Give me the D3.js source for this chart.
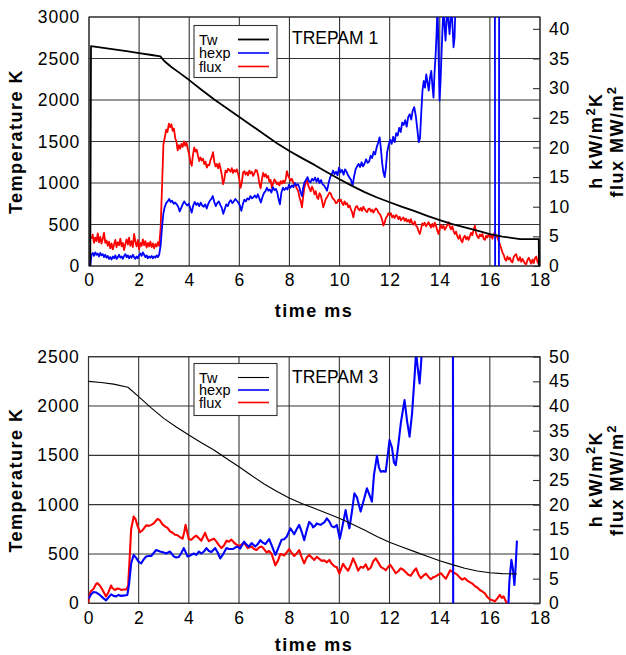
<!DOCTYPE html>
<html>
<head>
<meta charset="utf-8">
<script src="https://cdn.jsdelivr.net/npm/d3@7"></script>
<style>
  body { margin: 0; background: #fff; }
  svg text { font-family: "Liberation Sans", Arial, Helvetica, sans-serif; fill: #000; }
</style>
</head>
<body>
<svg id="chart" width="626" height="655"></svg>
<script>
// ---- tick labels ----
const timeTicks = [0, 2, 4, 6, 8, 10, 12, 14, 16, 18];
const tempTicks1 = [0, 500, 1000, 1500, 2000, 2500, 3000];
const rightTicks1 = [0, 5, 10, 15, 20, 25, 30, 35, 40];
const tempTicks3 = [0, 500, 1000, 1500, 2000, 2500];
const rightTicks3 = [0, 5, 10, 15, 20, 25, 30, 35, 40, 45, 50];
const legendNames = ["Tw", "hexp", "flux"];

// ---- TREPAM 1 : [time ms, value] ----
const tw1 = [[0.05,0],[0.08,2650],[0.5,2632],[1.0,2610],[1.5,2588],[2.0,2565],[2.5,2542],[2.85,2525],[3.0,2470],[3.3,2395],[3.6,2330],[4.0,2240],[4.5,2120],[5.0,2005],[5.5,1900],[6.0,1795],[6.5,1690],[7.0,1585],[7.5,1480],[8.0,1385],[8.5,1300],[9.0,1218],[9.5,1130],[10.0,1045],[10.5,965],[11.0,890],[11.5,825],[12.0,768],[12.5,712],[13.0,660],[13.5,605],[14.0,552],[14.5,505],[15.0,465],[15.5,425],[16.0,385],[16.5,355],[17.0,333],[17.2,325],[17.95,325],[17.96,0]];

const hexp1 = [[0.05,0],[0.1,1.9],[0.15,2.2],[0.2,1.7],[0.25,2.3],[0.3,1.9],[0.35,2.1],[0.4,1.6],[0.45,2.2],[0.5,1.8],[0.55,2.0],[0.6,1.5],[0.65,1.9],[0.7,1.4],[0.75,1.7],[0.8,1.2],[0.85,1.5],[0.9,1.1],[0.95,1.6],[1.0,1.3],[1.05,1.8],[1.1,1.2],[1.15,1.5],[1.2,1.9],[1.25,1.4],[1.3,1.6],[1.35,1.2],[1.4,1.7],[1.45,2.0],[1.5,1.5],[1.55,1.8],[1.6,1.3],[1.65,1.7],[1.7,1.4],[1.75,1.9],[1.8,1.5],[1.85,1.2],[1.9,1.6],[1.95,1.3],[2.0,1.8],[2.05,2.1],[2.1,1.7],[2.15,2.3],[2.2,1.9],[2.25,1.5],[2.3,1.8],[2.35,1.3],[2.4,1.6],[2.45,1.4],[2.5,1.7],[2.55,1.3],[2.6,1.6],[2.65,1.4],[2.7,1.8],[2.75,1.5],[2.8,1.9],[2.86,3.5],[2.92,6.8],[2.97,8.9],[3.02,9.9],[3.08,10.6],[3.14,10.9],[3.2,11.3],[3.26,10.8],[3.32,11.0],[3.38,10.5],[3.44,10.7],[3.5,10.4],[3.56,10.0],[3.62,9.2],[3.68,9.8],[3.74,10.4],[3.8,10.9],[3.86,10.5],[3.92,10.2],[3.98,10.5],[4.04,9.8],[4.1,9.0],[4.16,10.2],[4.22,10.8],[4.28,10.3],[4.34,10.6],[4.4,10.1],[4.46,10.7],[4.52,10.2],[4.58,10.0],[4.64,10.4],[4.7,9.7],[4.76,10.5],[4.82,11.0],[4.88,11.3],[4.94,11.8],[5.0,10.8],[5.06,10.1],[5.12,10.6],[5.18,10.9],[5.24,10.3],[5.3,9.8],[5.36,8.8],[5.42,9.6],[5.48,10.4],[5.54,10.1],[5.6,10.8],[5.66,11.1],[5.72,10.6],[5.78,10.9],[5.84,11.3],[5.9,11.0],[5.96,10.7],[6.02,10.2],[6.08,9.3],[6.14,10.4],[6.2,11.2],[6.26,10.9],[6.32,11.4],[6.38,11.2],[6.44,11.8],[6.5,11.4],[6.56,11.6],[6.62,11.9],[6.68,11.5],[6.74,12.1],[6.8,11.4],[6.86,10.7],[6.92,11.6],[6.98,12.3],[7.04,12.6],[7.1,13.2],[7.16,12.7],[7.22,12.9],[7.28,12.4],[7.34,13.3],[7.4,12.8],[7.46,13.0],[7.52,12.3],[7.58,11.0],[7.62,10.4],[7.68,12.4],[7.74,13.2],[7.8,12.8],[7.86,13.2],[7.92,12.9],[7.98,13.7],[8.04,13.2],[8.1,13.6],[8.16,13.3],[8.22,14.0],[8.28,13.6],[8.34,13.8],[8.4,13.2],[8.45,12.4],[8.5,11.8],[8.55,13.2],[8.6,14.1],[8.66,14.5],[8.72,15.0],[8.78,14.3],[8.84,14.1],[8.9,14.7],[8.96,14.4],[9.02,14.9],[9.08,14.2],[9.14,14.8],[9.2,14.0],[9.26,14.5],[9.32,13.8],[9.38,13.6],[9.44,13.2],[9.5,12.7],[9.56,13.9],[9.62,14.9],[9.68,15.4],[9.74,16.1],[9.8,15.5],[9.86,15.9],[9.92,15.3],[9.98,16.6],[10.04,15.8],[10.1,16.2],[10.16,15.4],[10.22,16.3],[10.28,15.9],[10.34,15.3],[10.4,14.9],[10.46,14.5],[10.52,13.5],[10.58,15.1],[10.64,16.3],[10.7,16.8],[10.76,17.2],[10.82,16.7],[10.88,17.5],[10.94,16.8],[11.0,17.3],[11.06,18.0],[11.12,17.4],[11.18,17.6],[11.24,18.6],[11.3,18.2],[11.36,19.3],[11.42,18.8],[11.48,20.0],[11.54,20.8],[11.6,21.7],[11.65,19.8],[11.7,17.4],[11.75,15.8],[11.8,15.0],[11.85,16.6],[11.9,19.2],[11.96,20.4],[12.02,21.3],[12.08,20.6],[12.14,21.8],[12.2,20.9],[12.26,22.4],[12.32,22.0],[12.38,23.3],[12.44,22.6],[12.5,24.2],[12.56,23.8],[12.62,24.6],[12.68,23.5],[12.74,25.1],[12.8,25.6],[12.86,24.7],[12.92,26.2],[12.98,26.8],[13.04,25.4],[13.1,23.2],[13.16,20.9],[13.21,21.5],[13.26,25.8],[13.31,29.6],[13.36,31.2],[13.41,30.1],[13.46,32.3],[13.51,31.0],[13.56,29.6],[13.61,31.8],[13.66,32.9],[13.71,30.2],[13.75,28.4],[13.79,32.6],[13.83,35.2],[13.87,39.0],[13.91,44.0],[13.95,36.0],[13.99,27.9],[14.03,31.0],[14.07,35.8],[14.11,40.1],[14.15,44.0],[14.19,40.5],[14.23,38.0],[14.27,41.3],[14.31,44.0],[14.35,41.0],[14.39,39.1],[14.43,41.5],[14.47,44.0],[14.51,40.3],[14.55,36.9],[14.59,38.5],[14.64,46.0],[16.2,46.0],[16.21,-5],[16.36,-5],[16.37,46.0],[17.95,46.0]];

const flux1 = [[0.1,4.6],[0.15,5.3],[0.2,3.9],[0.25,4.8],[0.3,4.2],[0.35,5.5],[0.4,4.0],[0.45,4.9],[0.5,3.8],[0.55,4.6],[0.6,5.6],[0.65,3.9],[0.7,4.3],[0.75,3.4],[0.8,4.1],[0.85,3.0],[0.9,3.8],[0.95,2.8],[1.0,3.6],[1.05,4.4],[1.1,3.2],[1.15,4.0],[1.2,3.5],[1.25,4.6],[1.3,3.3],[1.35,3.9],[1.4,2.7],[1.45,3.7],[1.5,4.5],[1.55,3.6],[1.6,4.8],[1.65,3.4],[1.7,4.2],[1.75,3.2],[1.8,5.4],[1.85,4.1],[1.9,3.3],[1.95,4.4],[2.0,2.8],[2.05,3.9],[2.1,3.4],[2.15,4.5],[2.2,3.5],[2.25,4.2],[2.3,3.1],[2.35,3.9],[2.4,3.3],[2.45,4.1],[2.5,3.2],[2.55,3.8],[2.6,3.0],[2.65,3.7],[2.7,3.3],[2.75,4.0],[2.8,3.4],[2.86,6.5],[2.92,14.0],[2.97,20.5],[3.03,21.8],[3.08,23.0],[3.13,22.6],[3.19,24.0],[3.24,23.4],[3.29,23.9],[3.34,22.8],[3.39,23.2],[3.44,21.6],[3.49,21.0],[3.54,19.5],[3.59,20.4],[3.64,19.8],[3.69,20.6],[3.74,20.1],[3.79,21.0],[3.84,20.3],[3.89,20.8],[3.95,19.6],[4.0,18.8],[4.05,17.5],[4.1,16.9],[4.15,18.8],[4.2,20.0],[4.25,19.3],[4.3,19.6],[4.35,18.6],[4.4,17.7],[4.45,18.3],[4.5,17.8],[4.55,18.1],[4.6,17.2],[4.65,17.6],[4.7,16.6],[4.75,17.1],[4.8,17.0],[4.85,17.9],[4.9,18.4],[4.95,19.2],[5.0,17.6],[5.05,16.8],[5.1,17.2],[5.15,16.5],[5.2,17.3],[5.25,16.4],[5.3,15.4],[5.35,13.8],[5.4,14.6],[5.45,16.1],[5.5,15.8],[5.55,16.4],[5.6,16.2],[5.65,15.9],[5.7,16.5],[5.75,15.7],[5.8,16.2],[5.85,15.9],[5.9,16.3],[5.95,15.6],[6.0,14.6],[6.05,13.2],[6.1,14.1],[6.15,15.8],[6.2,16.0],[6.25,15.4],[6.3,15.8],[6.35,15.3],[6.4,16.1],[6.45,15.6],[6.5,15.9],[6.55,15.2],[6.6,15.6],[6.65,16.2],[6.7,16.1],[6.75,15.3],[6.8,13.9],[6.85,13.1],[6.9,14.6],[6.95,15.7],[7.0,15.1],[7.05,15.5],[7.1,14.9],[7.15,15.2],[7.2,14.2],[7.25,14.5],[7.3,13.2],[7.35,14.0],[7.4,14.6],[7.45,14.3],[7.5,13.8],[7.55,14.1],[7.6,13.6],[7.65,14.3],[7.7,13.9],[7.75,14.4],[7.8,14.0],[7.85,14.6],[7.9,16.0],[7.95,15.2],[8.0,14.8],[8.05,14.4],[8.1,14.7],[8.15,14.1],[8.2,13.8],[8.25,13.5],[8.3,13.0],[8.35,12.7],[8.4,11.6],[8.45,10.9],[8.5,9.9],[8.55,11.8],[8.6,13.3],[8.65,14.0],[8.7,14.5],[8.75,13.6],[8.8,13.1],[8.85,12.6],[8.9,13.4],[8.95,12.9],[9.0,12.1],[9.05,12.6],[9.1,11.6],[9.15,11.3],[9.2,12.3],[9.25,11.9],[9.3,11.0],[9.35,9.9],[9.4,10.6],[9.45,11.3],[9.5,11.6],[9.55,12.0],[9.6,12.4],[9.65,12.2],[9.7,11.6],[9.75,11.3],[9.8,11.1],[9.85,10.6],[9.9,10.7],[9.95,11.2],[10.0,10.9],[10.05,11.2],[10.1,10.6],[10.15,10.3],[10.2,10.9],[10.25,10.4],[10.3,10.6],[10.35,9.9],[10.4,10.2],[10.45,9.6],[10.5,9.1],[10.55,8.2],[10.6,9.3],[10.65,10.0],[10.7,10.1],[10.75,9.6],[10.8,9.4],[10.85,9.8],[10.9,9.3],[10.95,10.0],[11.0,9.6],[11.05,9.3],[11.1,9.1],[11.15,9.6],[11.2,9.7],[11.25,9.2],[11.3,9.5],[11.35,9.0],[11.4,9.4],[11.45,9.7],[11.5,9.5],[11.55,9.0],[11.6,8.8],[11.65,8.4],[11.7,7.8],[11.75,6.8],[11.8,7.3],[11.85,8.1],[11.9,8.4],[11.95,8.9],[12.0,8.6],[12.05,8.9],[12.1,8.2],[12.15,8.5],[12.2,8.1],[12.25,8.6],[12.3,8.4],[12.35,7.9],[12.4,8.3],[12.45,7.7],[12.5,8.0],[12.55,8.2],[12.6,7.6],[12.65,8.0],[12.7,7.5],[12.75,7.8],[12.8,7.3],[12.85,7.9],[12.9,7.2],[12.95,7.0],[13.0,7.5],[13.05,6.8],[13.1,6.6],[13.15,5.9],[13.2,5.4],[13.25,6.2],[13.3,7.2],[13.35,6.9],[13.4,7.3],[13.45,6.7],[13.5,7.0],[13.55,7.4],[13.6,6.9],[13.65,6.5],[13.7,7.1],[13.75,6.6],[13.8,7.3],[13.85,6.8],[13.9,6.0],[13.95,5.4],[14.0,6.3],[14.05,6.9],[14.1,6.4],[14.15,6.8],[14.2,6.1],[14.25,6.5],[14.3,6.9],[14.35,7.4],[14.4,6.6],[14.45,6.2],[14.5,6.7],[14.55,5.9],[14.6,5.4],[14.65,5.8],[14.7,5.0],[14.75,4.6],[14.8,5.2],[14.85,4.3],[14.9,4.0],[14.95,4.8],[15.0,5.1],[15.05,4.5],[15.1,4.9],[15.15,4.4],[15.2,5.0],[15.25,5.6],[15.3,5.2],[15.35,6.1],[15.4,6.8],[15.45,5.5],[15.5,5.0],[15.55,4.7],[15.6,5.3],[15.65,5.0],[15.7,5.4],[15.75,4.6],[15.8,4.4],[15.85,5.1],[15.9,4.8],[15.95,5.4],[16.0,4.9],[16.05,5.2],[16.1,4.6],[16.15,5.3],[16.2,5.7],[16.25,5.1],[16.3,4.8],[16.35,4.2],[16.4,3.6],[16.45,3.0],[16.5,2.3],[16.55,1.9],[16.6,1.2],[16.65,0.9],[16.7,1.6],[16.75,1.1],[16.8,1.4],[16.85,0.8],[16.9,0.6],[16.95,1.5],[17.0,1.8],[17.05,2.0],[17.1,1.2],[17.15,0.9],[17.2,1.5],[17.25,0.7],[17.3,1.2],[17.35,0.8],[17.4,0.4],[17.45,0.3],[17.5,1.0],[17.55,1.4],[17.6,0.9],[17.65,0.4],[17.7,1.1],[17.75,0.5],[17.8,1.3],[17.85,1.6],[17.9,0.7],[17.95,0.3]];

// ---- TREPAM 3 : [time ms, value] ----
const tw3 = [[0,2250],[0.5,2238],[1.0,2222],[1.57,2190],[2.0,2095],[2.5,1982],[3.0,1875],[3.5,1788],[4.0,1706],[4.5,1628],[5.0,1554],[5.5,1468],[6.0,1385],[6.5,1295],[7.0,1210],[7.5,1135],[8.0,1068],[8.5,1012],[9.0,963],[9.5,912],[10.0,862],[10.5,805],[11.0,743],[11.5,678],[12.0,618],[12.5,570],[13.0,524],[13.5,476],[14.0,432],[14.5,392],[15.0,355],[15.5,328],[16.0,310],[16.5,301],[17.08,297]];

const hexp3 = [[0.0,0.9],[0.1,1.8],[0.2,2.3],[0.3,2.2],[0.45,1.7],[0.6,1.0],[0.7,0.6],[0.8,1.2],[0.9,1.8],[1.0,1.5],[1.1,1.4],[1.2,1.7],[1.3,1.5],[1.45,1.6],[1.55,1.7],[1.62,4.0],[1.7,8.1],[1.8,9.8],[1.9,9.2],[2.0,8.4],[2.1,8.1],[2.2,8.9],[2.3,9.5],[2.4,9.6],[2.5,9.6],[2.6,10.2],[2.7,10.8],[2.85,10.5],[3.0,10.3],[3.1,10.1],[3.25,10.5],[3.4,9.5],[3.5,9.3],[3.6,9.4],[3.7,10.2],[3.8,11.2],[3.95,9.5],[4.05,9.7],[4.2,10.1],[4.3,9.8],[4.4,10.5],[4.5,10.1],[4.6,10.5],[4.7,11.2],[4.8,10.6],[4.9,10.4],[5.05,11.2],[5.15,10.3],[5.25,9.1],[5.35,9.8],[5.5,11.2],[5.6,11.0],[5.75,11.0],[5.85,11.3],[5.95,11.5],[6.05,11.1],[6.2,12.5],[6.3,11.9],[6.4,11.5],[6.5,12.2],[6.65,11.5],[6.75,12.0],[6.85,12.8],[6.95,12.3],[7.05,12.0],[7.2,13.0],[7.3,11.8],[7.45,9.8],[7.55,11.0],[7.7,12.9],[7.8,13.0],[7.9,13.5],[8.05,15.2],[8.15,14.4],[8.2,14.0],[8.3,15.0],[8.4,15.9],[8.5,14.5],[8.6,12.8],[8.7,14.8],[8.8,16.5],[8.9,16.0],[8.95,15.4],[9.05,15.8],[9.1,16.2],[9.25,15.9],[9.4,16.4],[9.5,17.2],[9.6,16.6],[9.7,15.6],[9.8,15.4],[9.9,15.9],[10.02,13.1],[10.12,15.5],[10.25,18.9],[10.32,17.0],[10.4,15.2],[10.5,18.5],[10.6,22.3],[10.7,21.5],[10.85,18.6],[10.95,20.5],[11.1,23.3],[11.2,22.0],[11.3,20.6],[11.38,26.0],[11.5,29.9],[11.58,27.5],[11.65,26.7],[11.75,26.8],[11.85,26.7],[11.93,30.0],[12.0,33.1],[12.1,31.5],[12.18,28.5],[12.25,28.0],[12.35,32.0],[12.45,36.5],[12.6,41.2],[12.7,37.0],[12.8,33.8],[12.9,38.5],[13.0,46.0],[13.06,51.0],[13.12,48.0],[13.2,44.6],[13.25,48.0],[13.3,52.0],[14.53,52.0],[14.54,-5],[16.7,-5],[16.78,4.5],[16.86,8.8],[16.92,7.0],[16.98,3.7],[17.03,7.5],[17.08,12.7]];

const flux3 = [[0.0,0.0],[0.02,1.5],[0.1,2.5],[0.2,2.9],[0.3,3.9],[0.35,4.1],[0.45,3.6],[0.55,2.8],[0.7,1.4],[0.8,2.3],[0.9,3.6],[0.95,3.1],[1.05,2.7],[1.15,3.0],[1.25,2.9],[1.3,2.7],[1.4,2.8],[1.5,2.8],[1.58,3.5],[1.64,9.0],[1.7,15.0],[1.8,17.6],[1.88,17.0],[1.95,15.8],[2.05,14.4],[2.15,14.8],[2.3,15.8],[2.4,15.7],[2.5,15.9],[2.6,16.2],[2.75,17.1],[2.85,16.8],[2.95,16.0],[3.05,15.6],[3.15,15.3],[3.25,14.6],[3.35,14.3],[3.45,13.9],[3.55,13.8],[3.65,13.4],[3.75,13.1],[3.82,14.5],[3.87,15.9],[3.93,14.5],[4.0,13.0],[4.1,12.9],[4.2,13.4],[4.3,13.7],[4.4,13.2],[4.5,12.7],[4.6,13.8],[4.65,14.3],[4.72,13.3],[4.8,12.6],[4.9,12.9],[5.0,13.1],[5.1,12.5],[5.2,11.8],[5.3,11.2],[5.4,11.7],[5.5,12.7],[5.6,12.5],[5.7,12.9],[5.8,12.3],[5.9,11.9],[6.0,11.6],[6.1,11.9],[6.2,12.3],[6.35,11.2],[6.5,11.5],[6.6,11.0],[6.7,10.8],[6.8,11.3],[6.9,11.5],[7.0,11.0],[7.1,10.3],[7.2,10.6],[7.3,10.0],[7.38,8.8],[7.45,7.7],[7.55,8.6],[7.65,10.0],[7.72,9.9],[7.8,9.7],[7.9,10.3],[8.0,11.0],[8.1,10.2],[8.2,9.6],[8.3,10.1],[8.4,10.8],[8.5,9.3],[8.6,8.1],[8.7,9.3],[8.8,9.8],[8.9,9.3],[9.0,8.8],[9.1,9.4],[9.2,9.0],[9.3,8.6],[9.4,8.7],[9.5,8.3],[9.6,8.8],[9.7,8.0],[9.8,7.5],[9.9,7.3],[10.0,6.0],[10.08,7.1],[10.15,8.0],[10.25,7.2],[10.35,6.6],[10.45,7.7],[10.55,9.1],[10.65,8.0],[10.75,6.6],[10.85,7.4],[10.95,7.2],[11.05,7.9],[11.15,6.8],[11.25,7.2],[11.35,8.5],[11.45,9.1],[11.55,8.3],[11.65,7.4],[11.75,7.1],[11.85,6.7],[11.95,7.4],[12.03,7.8],[12.15,6.9],[12.25,6.1],[12.35,6.5],[12.45,7.1],[12.55,6.8],[12.65,6.3],[12.75,5.8],[12.85,5.6],[12.95,6.4],[13.06,7.1],[13.15,5.9],[13.25,5.1],[13.35,5.6],[13.45,6.0],[13.55,5.4],[13.65,4.9],[13.75,5.3],[13.85,5.5],[13.95,5.8],[14.05,6.1],[14.15,5.5],[14.25,5.0],[14.33,5.8],[14.42,6.7],[14.5,6.4],[14.6,6.1],[14.7,5.8],[14.8,5.2],[14.9,4.8],[15.0,5.1],[15.1,4.6],[15.2,4.3],[15.3,4.0],[15.4,3.5],[15.5,3.2],[15.6,2.7],[15.7,2.4],[15.8,2.0],[15.9,1.3],[16.0,0.8],[16.1,0.6],[16.2,0.4],[16.3,1.0],[16.4,1.7],[16.48,1.1],[16.55,1.4],[16.62,0.6],[16.68,0.0]];

const svg = d3.select("#chart");
const GRID = "#333";
const fmt = d3.format("d");

function panel(o) {
  const g = svg.append("g");
  const x = d3.scaleLinear().domain([0, 18]).range([o.x0, o.x1]);
  const yL = d3.scaleLinear().domain([0, o.tMax]).range([o.yb, o.yt]);
  const yR = d3.scaleLinear().domain([0, o.rMax]).range([o.yb, o.yt]);

  // grid
  g.append("g").selectAll("line").data(timeTicks).join("line")
    .attr("x1", d => x(d)).attr("x2", d => x(d))
    .attr("y1", o.yb).attr("y2", o.yt)
    .attr("stroke", GRID).attr("stroke-width", 1.1);
  g.append("g").selectAll("line").data(o.tempTicks).join("line")
    .attr("x1", o.x0).attr("x2", o.x1)
    .attr("y1", d => yL(d)).attr("y2", d => yL(d))
    .attr("stroke", GRID).attr("stroke-width", 1.1);
  g.append("rect")
    .attr("x", o.x0).attr("y", o.yt)
    .attr("width", o.x1 - o.x0).attr("height", o.yb - o.yt)
    .attr("fill", "none").attr("stroke", GRID).attr("stroke-width", 1.1);

  // axes
  const ax = g.append("g").attr("transform", `translate(0,${o.yb})`)
    .call(d3.axisBottom(x).tickValues(timeTicks).tickFormat(fmt).tickSize(0).tickPadding(8));
  ax.select(".domain").remove();
  ax.attr("font-size", 17.5).selectAll("text").attr("letter-spacing", 0.8);

  const al = g.append("g").attr("transform", `translate(${o.x0},0)`)
    .call(d3.axisLeft(yL).tickValues(o.tempTicks).tickFormat(fmt).tickSize(0).tickPadding(9));
  al.select(".domain").remove();
  al.attr("font-size", 17.5).selectAll("text").attr("letter-spacing", 0.8);

  const ar = g.append("g").attr("transform", `translate(${o.x1},0)`)
    .call(d3.axisRight(yR).tickValues(o.rightTicks).tickFormat(fmt).tickSizeInner(-7).tickSizeOuter(0).tickPadding(9));
  ar.select(".domain").remove();
  ar.selectAll("line").attr("stroke", GRID).attr("stroke-width", 1.1);
  ar.attr("font-size", 17.5).selectAll("text").attr("letter-spacing", 0.8);

  // data lines, clipped to the plot frame
  const clipId = "clip" + o.id;
  svg.append("clipPath").attr("id", clipId).append("rect")
    .attr("x", o.x0).attr("y", o.yt).attr("width", o.x1 - o.x0).attr("height", o.yb - o.yt);
  const lines = g.append("g").attr("clip-path", `url(#${clipId})`);
  const mk = ys => d3.line().x(d => x(d[0])).y(d => ys(d[1]));
  lines.append("path").datum(o.flux).attr("d", mk(yR))
    .attr("fill", "none").attr("stroke", "#ff0000").attr("stroke-width", o.wData).attr("stroke-linejoin", "round");
  lines.append("path").datum(o.hexp).attr("d", mk(yR))
    .attr("fill", "none").attr("stroke", "#0000ff").attr("stroke-width", o.wData).attr("stroke-linejoin", "round");
  lines.append("path").datum(o.tw).attr("d", mk(yL))
    .attr("fill", "none").attr("stroke", "#000").attr("stroke-width", o.wTw).attr("stroke-linejoin", "round");

  // legend
  const lg = g.append("g");
  lg.append("rect").attr("x", 194).attr("y", o.legY).attr("width", 83).attr("height", 52)
    .attr("fill", "#fff").attr("stroke", GRID).attr("stroke-width", 1.1);
  const colors = ["#000", "#0000ff", "#ff0000"];
  const widths = [o.wTw, 1.6, 1.6];
  legendNames.forEach((name, i) => {
    const yy = o.legY + 14 + i * o.legStep;
    lg.append("text").attr("x", 199).attr("y", yy + 5).attr("font-size", 14.5).text(name);
    lg.append("line").attr("x1", 238).attr("x2", 269).attr("y1", yy).attr("y2", yy)
      .attr("stroke", colors[i]).attr("stroke-width", widths[i]);
  });

  // run label
  g.append("text").attr("x", 292).attr("y", o.yt + 26.5).attr("font-size", 17.5).text(o.label);

  // axis titles
  const cy = (o.yt + o.yb) / 2;
  g.append("text").attr("transform", `translate(22,${cy}) rotate(-90)`)
    .attr("text-anchor", "middle").attr("font-weight", "bold").attr("font-size", 18)
    .attr("letter-spacing", 1.5).text("Temperature K");
  g.append("text").attr("x", 314).attr("y", o.yb + o.titleGap)
    .attr("text-anchor", "middle").attr("font-weight", "bold").attr("font-size", 18)
    .attr("letter-spacing", 1.5).text("time ms");
  const t1 = g.append("text").attr("transform", `translate(601.5,${cy - 1}) rotate(-90)`)
    .attr("text-anchor", "middle").attr("font-weight", "bold").attr("font-size", 18).attr("letter-spacing", 1.5);
  t1.append("tspan").text("h kW/m");
  t1.append("tspan").attr("dy", -7).attr("font-size", 13).text("2");
  t1.append("tspan").attr("dy", 7).text("K");
  const t2 = g.append("text").attr("transform", `translate(622.5,${cy}) rotate(-90)`)
    .attr("text-anchor", "middle").attr("font-weight", "bold").attr("font-size", 18).attr("letter-spacing", 1.5);
  t2.append("tspan").text("flux MW/m");
  t2.append("tspan").attr("dy", -7).attr("font-size", 13).text("2");
}

panel({ id: 1, x0: 89, x1: 540, yt: 17, yb: 266, tMax: 3000, rMax: 42,
  tempTicks: tempTicks1, rightTicks: rightTicks1,
  tw: tw1, hexp: hexp1, flux: flux1, wTw: 1.8, wData: 1.8,
  legY: 25.5, legStep: 13.5, label: "TREPAM 1", titleGap: 50.5 });

panel({ id: 3, x0: 88.5, x1: 540, yt: 356.7, yb: 603.3, tMax: 2500, rMax: 50,
  tempTicks: tempTicks3, rightTicks: rightTicks3,
  tw: tw3, hexp: hexp3, flux: flux3, wTw: 1.1, wData: 2.1,
  legY: 363.5, legStep: 12.5, label: "TREPAM 3", titleGap: 47.5 });
</script>
</body>
</html>
